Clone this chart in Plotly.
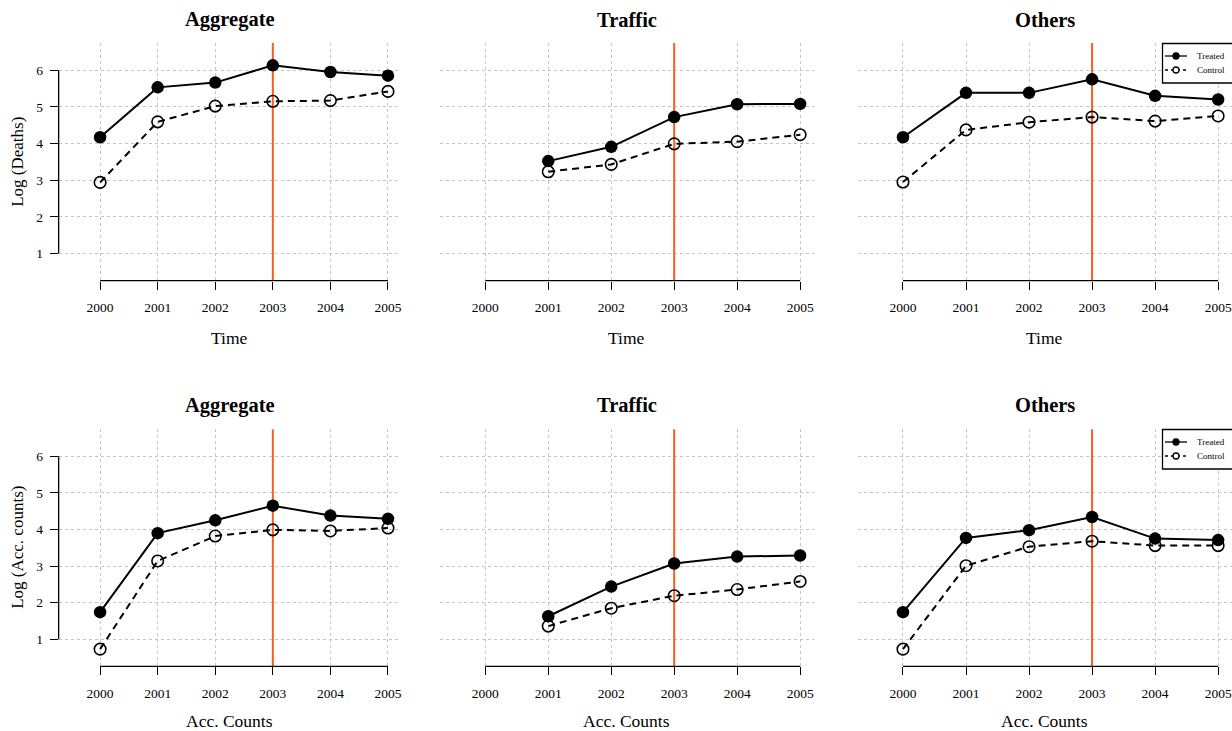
import plotly.graph_objects as go

# ---------------- data ----------------
years = [2000, 2001, 2002, 2003, 2004, 2005]
y_ticks = [1, 2, 3, 4, 5, 6]
treatment_year = 2003

panel_titles = ["Aggregate", "Traffic", "Others"]
row_xtitles = ["Time", "Acc. Counts"]
row_ytitles = ["Log (Deaths)", "Log (Acc. counts)"]
legend_labels = ["Treated", "Control"]

# Row 1: Log(Deaths)
deaths_aggregate_treated = [4.17, 5.53, 5.66, 6.13, 5.95, 5.85]
deaths_aggregate_control = [2.94, 4.59, 5.02, 5.15, 5.17, 5.42]
deaths_traffic_treated = [None, 3.52, 3.91, 4.72, 5.07, 5.08]
deaths_traffic_control = [None, 3.23, 3.43, 3.99, 4.05, 4.24]
deaths_others_treated = [4.17, 5.38, 5.38, 5.75, 5.30, 5.20]
deaths_others_control = [2.95, 4.37, 4.58, 4.72, 4.61, 4.75]

# Row 2: Log(Acc. counts)
acc_aggregate_treated = [1.74, 3.90, 4.25, 4.65, 4.38, 4.29]
acc_aggregate_control = [0.73, 3.14, 3.82, 3.99, 3.96, 4.04]
acc_traffic_treated = [None, 1.63, 2.44, 3.07, 3.26, 3.29]
acc_traffic_control = [None, 1.36, 1.85, 2.19, 2.36, 2.58]
acc_others_treated = [1.74, 3.77, 3.98, 4.34, 3.75, 3.71]
acc_others_control = [0.73, 3.01, 3.53, 3.68, 3.56, 3.56]

rows = [
    [(deaths_aggregate_treated, deaths_aggregate_control),
     (deaths_traffic_treated, deaths_traffic_control),
     (deaths_others_treated, deaths_others_control)],
    [(acc_aggregate_treated, acc_aggregate_control),
     (acc_traffic_treated, acc_traffic_control),
     (acc_others_treated, acc_others_control)],
]

# ---------------- layout geometry ----------------
W, H = 1232, 731
FONT = "Liberation Serif, Times New Roman, serif"
x_domains = [[0.0476, 0.3252], [0.3571, 0.6607], [0.6961, 1.0]]
y_domains = [[0.6160, 0.9412], [0.0884, 0.4129]]
x_range = [1999.28, 2005.22]
y_range = [0.26, 6.74]
red = "#FF5A1F"
grid_col = "#C4C4C4"


def px(xp):
    return xp / W


def py(yp):
    return 1 - yp / H


fig = go.Figure()
layout = dict(
    width=W, height=H, margin=dict(l=0, r=0, t=0, b=0),
    paper_bgcolor="white", plot_bgcolor="white",
    font=dict(family=FONT, color="black"),
    showlegend=False,
)
shapes = []
annotations = []

idx = 0
for r in range(2):
    for c in range(3):
        idx += 1
        xa = "x" if idx == 1 else f"x{idx}"
        ya = "y" if idx == 1 else f"y{idx}"
        xkey = "xaxis" if idx == 1 else f"xaxis{idx}"
        ykey = "yaxis" if idx == 1 else f"yaxis{idx}"
        treated, control = rows[r][c]

        # treatment year line (drawn first so the markers sit on top)
        fig.add_trace(go.Scatter(
            x=[treatment_year, treatment_year], y=y_range, xaxis=xa, yaxis=ya,
            mode="lines", line=dict(color=red, width=2), hoverinfo="skip",
            cliponaxis=False))
        fig.add_trace(go.Scatter(
            x=years, y=control, xaxis=xa, yaxis=ya, mode="lines+markers",
            name="Control",
            line=dict(color="black", width=2, dash="7px,5px"),
            marker=dict(symbol="circle-open", size=11.5, color="black",
                        line=dict(width=1.6, color="black")),
            connectgaps=False))
        fig.add_trace(go.Scatter(
            x=years, y=treated, xaxis=xa, yaxis=ya, mode="lines+markers",
            name="Treated",
            line=dict(color="black", width=2),
            marker=dict(symbol="circle", size=12.5, color="black"),
            connectgaps=False))

        layout[xkey] = dict(
            domain=x_domains[c], range=x_range, anchor=ya,
            tickvals=years, ticktext=[str(v) for v in years],
            ticks="outside", ticklen=8, tickwidth=1.3, tickcolor="black",
            ticklabelstandoff=6,
            tickfont=dict(size=13.5, family=FONT, color="black"),
            showgrid=True, gridcolor=grid_col, griddash="dot", gridwidth=1,
            showline=False, zeroline=False, fixedrange=True)
        layout[ykey] = dict(
            domain=y_domains[r], range=y_range, anchor=xa,
            tickvals=y_ticks, ticktext=[str(v) for v in y_ticks],
            ticks="outside" if c == 0 else "", ticklen=8, tickwidth=1.3,
            tickcolor="black", showticklabels=(c == 0),
            ticklabelstandoff=4,
            tickfont=dict(size=13.5, family=FONT, color="black"),
            showgrid=True, gridcolor=grid_col, griddash="dot", gridwidth=1,
            showline=False, zeroline=False, fixedrange=True)

        # R-style axis lines spanning only the tick range
        shapes.append(dict(type="line", xref=xa, yref=f"{ya} domain",
                           x0=years[0], x1=years[-1], y0=0, y1=0,
                           line=dict(color="black", width=1.3), layer="above"))
        if c == 0:
            shapes.append(dict(type="line", xref=f"{xa} domain", yref=ya,
                               x0=0, x1=0, y0=y_ticks[0], y1=y_ticks[-1],
                               line=dict(color="black", width=1.3), layer="above"))

        # panel title
        title_y = py(20) if r == 0 else py(405)
        annotations.append(dict(text=f"<b>{panel_titles[c]}</b>", xref=f"{xa} domain",
                                x=0.5, yref="paper", y=title_y, showarrow=False,
                                xanchor="center", yanchor="middle",
                                font=dict(size=20.5, family=FONT, color="black")))
        # x-axis title
        xt_y = py(338) if r == 0 else py(721)
        annotations.append(dict(text=row_xtitles[r], xref=f"{xa} domain",
                                x=0.5, yref="paper", y=xt_y, showarrow=False,
                                xanchor="center", yanchor="middle",
                                font=dict(size=17.5, family=FONT, color="black")))
        if c == 0:
            yt_y = py(161.8) if r == 0 else py(547.8)
            annotations.append(dict(text=row_ytitles[r], xref="paper", x=px(18),
                                    yref="paper", y=yt_y, showarrow=False,
                                    textangle=-90, xanchor="center", yanchor="middle",
                                    font=dict(size=17, family=FONT, color="black")))

        # legend box in the right-hand panels (drawn like R's legend())
        if c == 2:
            top = 43.5 if r == 0 else 429.5
            shapes.append(dict(type="rect", xref="paper", yref="paper",
                               x0=px(1162.5), x1=px(1245), y0=py(top), y1=py(top + 39.5),
                               line=dict(color="black", width=1.3),
                               fillcolor="white", layer="above"))
            for k, lab in enumerate(legend_labels):
                yy = top + 12.5 + 14 * k
                shapes.append(dict(type="line", xref="paper", yref="paper",
                                   x0=px(1165), x1=px(1187), y0=py(yy), y1=py(yy),
                                   line=dict(color="black", width=1.3,
                                             dash="solid" if k == 0 else "3px,3px"),
                                   layer="above"))
                shapes.append(dict(type="circle", xref="paper", yref="paper",
                                   x0=px(1173), x1=px(1179), y0=py(yy - 3), y1=py(yy + 3),
                                   line=dict(color="black", width=1.3),
                                   fillcolor="black" if k == 0 else "white",
                                   layer="above"))
                annotations.append(dict(text=lab, xref="paper", yref="paper",
                                        x=px(1195), y=py(yy), xanchor="left",
                                        yanchor="middle", showarrow=False,
                                        font=dict(size=9, family=FONT, color="black")))

layout["shapes"] = shapes
layout["annotations"] = annotations
fig.update_layout(**layout)
fig.write_html("out.html", config={"displayModeBar": False},
               post_script="document.body.style.margin='0';")
